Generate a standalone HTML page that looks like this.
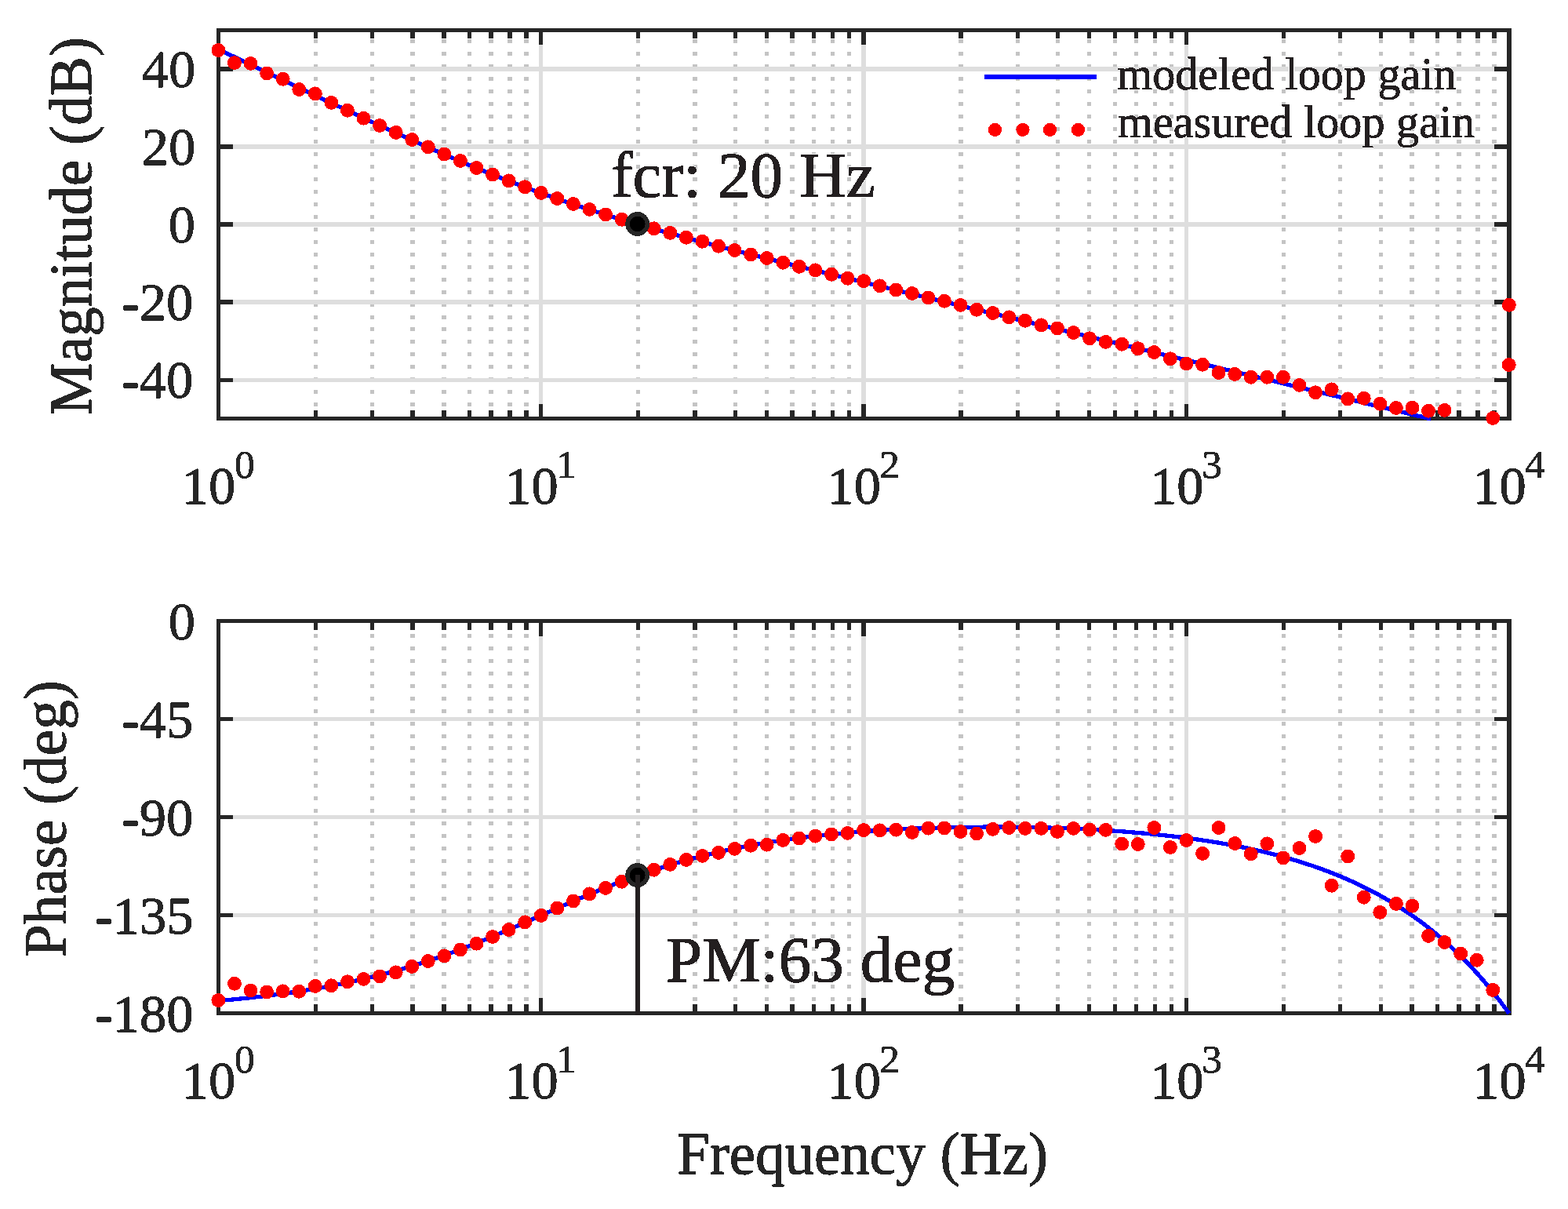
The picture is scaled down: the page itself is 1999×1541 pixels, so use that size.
<!DOCTYPE html>
<html lang="en">
<head>
<meta charset="utf-8">
<title>Loop gain Bode plot</title>
<style>
html,body{margin:0;padding:0;background:#fff;}
body{width:1999px;height:1541px;overflow:hidden;}
svg{display:block;}
text{font-family:"Liberation Serif","Times New Roman",Times,serif;}
</style>
</head>
<body>
<svg xmlns="http://www.w3.org/2000/svg" width="1999" height="1541" viewBox="0 0 1999 1541">
<rect width="1999" height="1541" fill="#fff"/>
<g id="top-axes" shape-rendering="crispEdges">
<path d="M402.23 50.35V533.50M474.67 50.35V533.50M526.07 50.35V533.50M565.94 50.35V533.50M598.51 50.35V533.50M626.05 50.35V533.50M649.90 50.35V533.50M670.95 50.35V533.50M813.60 50.35V533.50M886.04 50.35V533.50M937.44 50.35V533.50M977.31 50.35V533.50M1009.88 50.35V533.50M1037.42 50.35V533.50M1061.27 50.35V533.50M1082.32 50.35V533.50M1224.97 50.35V533.50M1297.41 50.35V533.50M1348.81 50.35V533.50M1388.68 50.35V533.50M1421.25 50.35V533.50M1448.79 50.35V533.50M1472.64 50.35V533.50M1493.69 50.35V533.50M1636.34 50.35V533.50M1708.78 50.35V533.50M1760.18 50.35V533.50M1800.05 50.35V533.50M1832.62 50.35V533.50M1860.16 50.35V533.50M1884.01 50.35V533.50M1905.06 50.35V533.50" fill="none" stroke="#c4c4c4" stroke-width="5.33" stroke-dasharray="5.0 10.963"/>
<path d="M689.77 38.5V533.5M1101.14 38.5V533.5M1512.51 38.5V533.5M278.4 88.00H1923.88M278.4 187.00H1923.88M278.4 286.00H1923.88M278.4 385.00H1923.88M278.4 484.45H1923.88" fill="none" stroke="#dedede" stroke-width="5.33"/>
<path d="M402.23 38.5v10.3M402.23 533.5v-10.3M474.67 38.5v10.3M474.67 533.5v-10.3M526.07 38.5v10.3M526.07 533.5v-10.3M565.94 38.5v10.3M565.94 533.5v-10.3M598.51 38.5v10.3M598.51 533.5v-10.3M626.05 38.5v10.3M626.05 533.5v-10.3M649.90 38.5v10.3M649.90 533.5v-10.3M670.95 38.5v10.3M670.95 533.5v-10.3M689.77 38.5v18.4M689.77 533.5v-18.4M813.60 38.5v10.3M813.60 533.5v-10.3M886.04 38.5v10.3M886.04 533.5v-10.3M937.44 38.5v10.3M937.44 533.5v-10.3M977.31 38.5v10.3M977.31 533.5v-10.3M1009.88 38.5v10.3M1009.88 533.5v-10.3M1037.42 38.5v10.3M1037.42 533.5v-10.3M1061.27 38.5v10.3M1061.27 533.5v-10.3M1082.32 38.5v10.3M1082.32 533.5v-10.3M1101.14 38.5v18.4M1101.14 533.5v-18.4M1224.97 38.5v10.3M1224.97 533.5v-10.3M1297.41 38.5v10.3M1297.41 533.5v-10.3M1348.81 38.5v10.3M1348.81 533.5v-10.3M1388.68 38.5v10.3M1388.68 533.5v-10.3M1421.25 38.5v10.3M1421.25 533.5v-10.3M1448.79 38.5v10.3M1448.79 533.5v-10.3M1472.64 38.5v10.3M1472.64 533.5v-10.3M1493.69 38.5v10.3M1493.69 533.5v-10.3M1512.51 38.5v18.4M1512.51 533.5v-18.4M1636.34 38.5v10.3M1636.34 533.5v-10.3M1708.78 38.5v10.3M1708.78 533.5v-10.3M1760.18 38.5v10.3M1760.18 533.5v-10.3M1800.05 38.5v10.3M1800.05 533.5v-10.3M1832.62 38.5v10.3M1832.62 533.5v-10.3M1860.16 38.5v10.3M1860.16 533.5v-10.3M1884.01 38.5v10.3M1884.01 533.5v-10.3M1905.06 38.5v10.3M1905.06 533.5v-10.3M278.4 88.00h18.4M1923.88 88.00h-18.9M278.4 187.00h18.4M1923.88 187.00h-18.9M278.4 286.00h18.4M1923.88 286.00h-18.9M278.4 385.00h18.4M1923.88 385.00h-18.9M278.4 484.45h18.4M1923.88 484.45h-18.9" fill="none" stroke="#262626" stroke-width="5.33"/>
<rect x="278.4" y="38.5" width="1645.48" height="495.0" fill="none" stroke="#262626" stroke-width="5.33"/>
</g>
<g id="bottom-axes" shape-rendering="crispEdges">
<path d="M402.23 807.80V1291.50M474.67 807.80V1291.50M526.07 807.80V1291.50M565.94 807.80V1291.50M598.51 807.80V1291.50M626.05 807.80V1291.50M649.90 807.80V1291.50M670.95 807.80V1291.50M813.60 807.80V1291.50M886.04 807.80V1291.50M937.44 807.80V1291.50M977.31 807.80V1291.50M1009.88 807.80V1291.50M1037.42 807.80V1291.50M1061.27 807.80V1291.50M1082.32 807.80V1291.50M1224.97 807.80V1291.50M1297.41 807.80V1291.50M1348.81 807.80V1291.50M1388.68 807.80V1291.50M1421.25 807.80V1291.50M1448.79 807.80V1291.50M1472.64 807.80V1291.50M1493.69 807.80V1291.50M1636.34 807.80V1291.50M1708.78 807.80V1291.50M1760.18 807.80V1291.50M1800.05 807.80V1291.50M1832.62 807.80V1291.50M1860.16 807.80V1291.50M1884.01 807.80V1291.50M1905.06 807.80V1291.50" fill="none" stroke="#c4c4c4" stroke-width="5.33" stroke-dasharray="5.0 10.963"/>
<path d="M689.77 791.5V1291.5M1101.14 791.5V1291.5M1512.51 791.5V1291.5M278.4 916.50H1923.88M278.4 1041.50H1923.88M278.4 1166.50H1923.88" fill="none" stroke="#dedede" stroke-width="5.33"/>
<path d="M402.23 791.5v11.4M402.23 1291.5v-11.4M474.67 791.5v11.4M474.67 1291.5v-11.4M526.07 791.5v11.4M526.07 1291.5v-11.4M565.94 791.5v11.4M565.94 1291.5v-11.4M598.51 791.5v11.4M598.51 1291.5v-11.4M626.05 791.5v11.4M626.05 1291.5v-11.4M649.90 791.5v11.4M649.90 1291.5v-11.4M670.95 791.5v11.4M670.95 1291.5v-11.4M689.77 791.5v19.4M689.77 1291.5v-19.4M813.60 791.5v11.4M813.60 1291.5v-11.4M886.04 791.5v11.4M886.04 1291.5v-11.4M937.44 791.5v11.4M937.44 1291.5v-11.4M977.31 791.5v11.4M977.31 1291.5v-11.4M1009.88 791.5v11.4M1009.88 1291.5v-11.4M1037.42 791.5v11.4M1037.42 1291.5v-11.4M1061.27 791.5v11.4M1061.27 1291.5v-11.4M1082.32 791.5v11.4M1082.32 1291.5v-11.4M1101.14 791.5v19.4M1101.14 1291.5v-19.4M1224.97 791.5v11.4M1224.97 1291.5v-11.4M1297.41 791.5v11.4M1297.41 1291.5v-11.4M1348.81 791.5v11.4M1348.81 1291.5v-11.4M1388.68 791.5v11.4M1388.68 1291.5v-11.4M1421.25 791.5v11.4M1421.25 1291.5v-11.4M1448.79 791.5v11.4M1448.79 1291.5v-11.4M1472.64 791.5v11.4M1472.64 1291.5v-11.4M1493.69 791.5v11.4M1493.69 1291.5v-11.4M1512.51 791.5v19.4M1512.51 1291.5v-19.4M1636.34 791.5v11.4M1636.34 1291.5v-11.4M1708.78 791.5v11.4M1708.78 1291.5v-11.4M1760.18 791.5v11.4M1760.18 1291.5v-11.4M1800.05 791.5v11.4M1800.05 1291.5v-11.4M1832.62 791.5v11.4M1832.62 1291.5v-11.4M1860.16 791.5v11.4M1860.16 1291.5v-11.4M1884.01 791.5v11.4M1884.01 1291.5v-11.4M1905.06 791.5v11.4M1905.06 1291.5v-11.4M278.4 916.50h18.4M1923.88 916.50h-18.9M278.4 1041.50h18.4M1923.88 1041.50h-18.9M278.4 1166.50h18.4M1923.88 1166.50h-18.9" fill="none" stroke="#262626" stroke-width="5.33"/>
<rect x="278.4" y="791.5" width="1645.48" height="500.0" fill="none" stroke="#262626" stroke-width="5.33"/>
</g>
<defs><filter id="crisp" x="-2%" y="-10%" width="104%" height="120%" color-interpolation-filters="sRGB"><feComponentTransfer in="SourceGraphic"><feFuncA type="discrete" tableValues="0 1"/></feComponentTransfer></filter><filter id="crisphalo" x="-2%" y="-10%" width="104%" height="120%" color-interpolation-filters="sRGB"><feComponentTransfer in="SourceAlpha" result="cov"><feFuncA type="linear" slope="400" intercept="-4"/></feComponentTransfer><feFlood flood-color="#ffffff" result="w"/><feComposite in="w" in2="cov" operator="in" result="halo"/><feComponentTransfer in="SourceGraphic" result="ink"><feFuncA type="discrete" tableValues="0 1"/></feComponentTransfer><feMerge><feMergeNode in="halo"/><feMergeNode in="ink"/></feMerge></filter></defs>
<defs><clipPath id="ct"><rect x="278.4" y="38.5" width="1545.6" height="497.665"/></clipPath><clipPath id="cb"><rect x="278.4" y="791.5" width="1648.145" height="502.665"/></clipPath></defs>
<g id="model" fill="none" stroke="#0000ff" stroke-width="5.33" stroke-linejoin="round" shape-rendering="crispEdges">
<path d="M278.4 62.8L281.8 64.4L285.3 66.1L288.7 67.7L292.1 69.4L295.5 71.0L299.0 72.6L302.4 74.3L305.8 75.9L309.3 77.6L312.7 79.2L316.1 80.8L319.5 82.5L323.0 84.1L326.4 85.7L329.8 87.4L333.2 89.0L336.7 90.6L340.1 92.3L343.5 93.9L347.0 95.5L350.4 97.2L353.8 98.8L357.2 100.4L360.7 102.1L364.1 103.7L367.5 105.3L371.0 107.0L374.4 108.6L377.8 110.2L381.2 111.8L384.7 113.5L388.1 115.1L391.5 116.7L395.0 118.3L398.4 119.9L401.8 121.6L405.2 123.2L408.7 124.8L412.1 126.4L415.5 128.0L419.0 129.6L422.4 131.3L425.8 132.9L429.2 134.5L432.7 136.1L436.1 137.7L439.5 139.3L442.9 140.9L446.4 142.5L449.8 144.1L453.2 145.7L456.7 147.3L460.1 148.9L463.5 150.5L466.9 152.0L470.4 153.6L473.8 155.2L477.2 156.8L480.7 158.4L484.1 160.0L487.5 161.5L490.9 163.1L494.4 164.7L497.8 166.2L501.2 167.8L504.7 169.4L508.1 170.9L511.5 172.5L514.9 174.0L518.4 175.6L521.8 177.1L525.2 178.6L528.7 180.2L532.1 181.7L535.5 183.2L538.9 184.8L542.4 186.3L545.8 187.8L549.2 189.3L552.6 190.8L556.1 192.3L559.5 193.8L562.9 195.3L566.4 196.8L569.8 198.3L573.2 199.7L576.6 201.2L580.1 202.7L583.5 204.1L586.9 205.6L590.4 207.0L593.8 208.5L597.2 209.9L600.6 211.4L604.1 212.8L607.5 214.2L610.9 215.6L614.4 217.0L617.8 218.4L621.2 219.8L624.6 221.2L628.1 222.6L631.5 223.9L634.9 225.3L638.3 226.7L641.8 228.0L645.2 229.4L648.6 230.7L652.1 232.0L655.5 233.3L658.9 234.6L662.3 235.9L665.8 237.2L669.2 238.5L672.6 239.8L676.1 241.1L679.5 242.4L682.9 243.6L686.3 244.9L689.8 246.1L693.2 247.3L696.6 248.6L700.1 249.8L703.5 251.0L706.9 252.2L710.3 253.4L713.8 254.6L717.2 255.7L720.6 256.9L724.1 258.1L727.5 259.2L730.9 260.4L734.3 261.5L737.8 262.7L741.2 263.8L744.6 264.9L748.0 266.0L751.5 267.1L754.9 268.2L758.3 269.3L761.8 270.4L765.2 271.5L768.6 272.5L772.0 273.6L775.5 274.7L778.9 275.7L782.3 276.7L785.8 277.8L789.2 278.8L792.6 279.8L796.0 280.9L799.5 281.9L802.9 282.9L806.3 283.9L809.8 284.9L813.2 285.9L816.6 286.9L820.0 287.9L823.5 288.8L826.9 289.8L830.3 290.8L833.7 291.7L837.2 292.7L840.6 293.7L844.0 294.6L847.5 295.6L850.9 296.5L854.3 297.4L857.7 298.4L861.2 299.3L864.6 300.2L868.0 301.2L871.5 302.1L874.9 303.0L878.3 303.9L881.7 304.8L885.2 305.7L888.6 306.6L892.0 307.6L895.5 308.5L898.9 309.4L902.3 310.2L905.7 311.1L909.2 312.0L912.6 312.9L916.0 313.8L919.5 314.7L922.9 315.6L926.3 316.5L929.7 317.3L933.2 318.2L936.6 319.1L940.0 320.0L943.4 320.8L946.9 321.7L950.3 322.6L953.7 323.4L957.2 324.3L960.6 325.2L964.0 326.0L967.4 326.9L970.9 327.7L974.3 328.6L977.7 329.5L981.2 330.3L984.6 331.2L988.0 332.0L991.4 332.9L994.9 333.7L998.3 334.6L1001.7 335.4L1005.2 336.3L1008.6 337.1L1012.0 338.0L1015.4 338.8L1018.9 339.7L1022.3 340.5L1025.7 341.4L1029.2 342.2L1032.6 343.0L1036.0 343.9L1039.4 344.7L1042.9 345.6L1046.3 346.4L1049.7 347.2L1053.1 348.1L1056.6 348.9L1060.0 349.8L1063.4 350.6L1066.9 351.4L1070.3 352.3L1073.7 353.1L1077.1 353.9L1080.6 354.8L1084.0 355.6L1087.4 356.5L1090.9 357.3L1094.3 358.1L1097.7 359.0L1101.1 359.8L1104.6 360.6L1108.0 361.5L1111.4 362.3L1114.9 363.1L1118.3 364.0L1121.7 364.8L1125.1 365.6L1128.6 366.4L1132.0 367.3L1135.4 368.1L1138.8 368.9L1142.3 369.8L1145.7 370.6L1149.1 371.4L1152.6 372.3L1156.0 373.1L1159.4 373.9L1162.8 374.7L1166.3 375.6L1169.7 376.4L1173.1 377.2L1176.6 378.1L1180.0 378.9L1183.4 379.7L1186.8 380.5L1190.3 381.4L1193.7 382.2L1197.1 383.0L1200.6 383.9L1204.0 384.7L1207.4 385.5L1210.8 386.3L1214.3 387.2L1217.7 388.0L1221.1 388.8L1224.6 389.6L1228.0 390.5L1231.4 391.3L1234.8 392.1L1238.3 393.0L1241.7 393.8L1245.1 394.6L1248.5 395.4L1252.0 396.3L1255.4 397.1L1258.8 397.9L1262.3 398.7L1265.7 399.6L1269.1 400.4L1272.5 401.2L1276.0 402.0L1279.4 402.9L1282.8 403.7L1286.3 404.5L1289.7 405.4L1293.1 406.2L1296.5 407.0L1300.0 407.8L1303.4 408.7L1306.8 409.5L1310.3 410.3L1313.7 411.1L1317.1 412.0L1320.5 412.8L1324.0 413.6L1327.4 414.4L1330.8 415.3L1334.2 416.1L1337.7 416.9L1341.1 417.7L1344.5 418.6L1348.0 419.4L1351.4 420.2L1354.8 421.0L1358.2 421.9L1361.7 422.7L1365.1 423.5L1368.5 424.3L1372.0 425.2L1375.4 426.0L1378.8 426.8L1382.2 427.6L1385.7 428.5L1389.1 429.3L1392.5 430.1L1396.0 430.9L1399.4 431.8L1402.8 432.6L1406.2 433.4L1409.7 434.2L1413.1 435.1L1416.5 435.9L1420.0 436.7L1423.4 437.5L1426.8 438.4L1430.2 439.2L1433.7 440.0L1437.1 440.8L1440.5 441.7L1443.9 442.5L1447.4 443.3L1450.8 444.1L1454.2 445.0L1457.7 445.8L1461.1 446.6L1464.5 447.4L1467.9 448.3L1471.4 449.1L1474.8 449.9L1478.2 450.7L1481.7 451.6L1485.1 452.4L1488.5 453.2L1491.9 454.0L1495.4 454.9L1498.8 455.7L1502.2 456.5L1505.7 457.4L1509.1 458.2L1512.5 459.0L1515.9 459.8L1519.4 460.7L1522.8 461.5L1526.2 462.3L1529.7 463.1L1533.1 464.0L1536.5 464.8L1539.9 465.6L1543.4 466.4L1546.8 467.3L1550.2 468.1L1553.6 468.9L1557.1 469.7L1560.5 470.6L1563.9 471.4L1567.4 472.2L1570.8 473.0L1574.2 473.9L1577.6 474.7L1581.1 475.5L1584.5 476.3L1587.9 477.2L1591.4 478.0L1594.8 478.8L1598.2 479.6L1601.6 480.5L1605.1 481.3L1608.5 482.1L1611.9 482.9L1615.4 483.8L1618.8 484.6L1622.2 485.4L1625.6 486.2L1629.1 487.1L1632.5 487.9L1635.9 488.7L1639.3 489.5L1642.8 490.4L1646.2 491.2L1649.6 492.0L1653.1 492.8L1656.5 493.7L1659.9 494.5L1663.3 495.3L1666.8 496.1L1670.2 497.0L1673.6 497.8L1677.1 498.6L1680.5 499.4L1683.9 500.3L1687.3 501.1L1690.8 501.9L1694.2 502.7L1697.6 503.6L1701.1 504.4L1704.5 505.2L1707.9 506.0L1711.3 506.9L1714.8 507.7L1718.2 508.5L1721.6 509.3L1725.1 510.2L1728.5 511.0L1731.9 511.8L1735.3 512.6L1738.8 513.5L1742.2 514.3L1745.6 515.1L1749.0 515.9L1752.5 516.8L1755.9 517.6L1759.3 518.4L1762.8 519.2L1766.2 520.1L1769.6 520.9L1773.0 521.7L1776.5 522.5L1779.9 523.4L1783.3 524.2L1786.8 525.0L1790.2 525.8L1793.6 526.7L1797.0 527.5L1800.5 528.3L1803.9 529.1L1807.3 530.0L1810.8 530.8L1814.2 531.6L1817.6 532.4L1821.0 533.3L1824.5 534.1L1827.9 534.9L1831.3 535.7L1834.7 536.6L1838.2 537.4L1841.6 538.2L1845.0 539.0L1848.5 539.9L1851.9 540.7L1855.3 541.5L1858.7 542.3L1862.2 543.2L1865.6 544.0L1869.0 544.8L1872.5 545.6L1875.9 546.5L1879.3 547.3L1882.7 548.1L1886.2 548.9L1889.6 549.8L1893.0 550.6L1896.5 551.4L1899.9 552.2L1903.3 553.1L1906.7 553.9L1910.2 554.7L1913.6 555.5L1917.0 556.4L1920.5 557.2L1923.9 558.0" clip-path="url(#ct)"/>
<path d="M278.4 1275.7L281.8 1275.4L285.3 1275.0L288.7 1274.7L292.1 1274.4L295.5 1274.1L299.0 1273.7L302.4 1273.4L305.8 1273.1L309.3 1272.7L312.7 1272.3L316.1 1272.0L319.5 1271.6L323.0 1271.2L326.4 1270.8L329.8 1270.4L333.2 1270.0L336.7 1269.6L340.1 1269.2L343.5 1268.8L347.0 1268.3L350.4 1267.9L353.8 1267.4L357.2 1267.0L360.7 1266.5L364.1 1266.0L367.5 1265.6L371.0 1265.1L374.4 1264.6L377.8 1264.1L381.2 1263.5L384.7 1263.0L388.1 1262.5L391.5 1261.9L395.0 1261.4L398.4 1260.8L401.8 1260.2L405.2 1259.6L408.7 1259.0L412.1 1258.4L415.5 1257.8L419.0 1257.1L422.4 1256.5L425.8 1255.8L429.2 1255.2L432.7 1254.5L436.1 1253.8L439.5 1253.1L442.9 1252.4L446.4 1251.7L449.8 1250.9L453.2 1250.2L456.7 1249.4L460.1 1248.6L463.5 1247.8L466.9 1247.0L470.4 1246.2L473.8 1245.4L477.2 1244.6L480.7 1243.7L484.1 1242.8L487.5 1242.0L490.9 1241.1L494.4 1240.1L497.8 1239.2L501.2 1238.3L504.7 1237.3L508.1 1236.4L511.5 1235.4L514.9 1234.4L518.4 1233.4L521.8 1232.3L525.2 1231.3L528.7 1230.2L532.1 1229.2L535.5 1228.1L538.9 1227.0L542.4 1225.9L545.8 1224.8L549.2 1223.6L552.6 1222.5L556.1 1221.3L559.5 1220.1L562.9 1218.9L566.4 1217.7L569.8 1216.5L573.2 1215.2L576.6 1214.0L580.1 1212.7L583.5 1211.4L586.9 1210.1L590.4 1208.8L593.8 1207.5L597.2 1206.1L600.6 1204.8L604.1 1203.4L607.5 1202.1L610.9 1200.7L614.4 1199.3L617.8 1197.9L621.2 1196.5L624.6 1195.1L628.1 1193.6L631.5 1192.2L634.9 1190.7L638.3 1189.3L641.8 1187.8L645.2 1186.3L648.6 1184.9L652.1 1183.4L655.5 1181.9L658.9 1180.4L662.3 1178.9L665.8 1177.4L669.2 1175.9L672.6 1174.4L676.1 1172.8L679.5 1171.3L682.9 1169.8L686.3 1168.3L689.8 1166.8L693.2 1165.2L696.6 1163.7L700.1 1162.2L703.5 1160.7L706.9 1159.2L710.3 1157.6L713.8 1156.1L717.2 1154.6L720.6 1153.1L724.1 1151.6L727.5 1150.1L730.9 1148.7L734.3 1147.2L737.8 1145.7L741.2 1144.2L744.6 1142.8L748.0 1141.3L751.5 1139.9L754.9 1138.5L758.3 1137.1L761.8 1135.6L765.2 1134.2L768.6 1132.9L772.0 1131.5L775.5 1130.1L778.9 1128.8L782.3 1127.4L785.8 1126.1L789.2 1124.8L792.6 1123.5L796.0 1122.2L799.5 1120.9L802.9 1119.6L806.3 1118.4L809.8 1117.2L813.2 1115.9L816.6 1114.7L820.0 1113.5L823.5 1112.4L826.9 1111.2L830.3 1110.1L833.7 1108.9L837.2 1107.8L840.6 1106.7L844.0 1105.6L847.5 1104.5L850.9 1103.5L854.3 1102.4L857.7 1101.4L861.2 1100.4L864.6 1099.4L868.0 1098.4L871.5 1097.4L874.9 1096.5L878.3 1095.5L881.7 1094.6L885.2 1093.7L888.6 1092.8L892.0 1091.9L895.5 1091.0L898.9 1090.2L902.3 1089.3L905.7 1088.5L909.2 1087.7L912.6 1086.9L916.0 1086.1L919.5 1085.3L922.9 1084.6L926.3 1083.8L929.7 1083.1L933.2 1082.4L936.6 1081.7L940.0 1081.0L943.4 1080.3L946.9 1079.6L950.3 1079.0L953.7 1078.3L957.2 1077.7L960.6 1077.0L964.0 1076.4L967.4 1075.8L970.9 1075.2L974.3 1074.7L977.7 1074.1L981.2 1073.5L984.6 1073.0L988.0 1072.5L991.4 1071.9L994.9 1071.4L998.3 1070.9L1001.7 1070.4L1005.2 1069.9L1008.6 1069.5L1012.0 1069.0L1015.4 1068.5L1018.9 1068.1L1022.3 1067.7L1025.7 1067.2L1029.2 1066.8L1032.6 1066.4L1036.0 1066.0L1039.4 1065.6L1042.9 1065.2L1046.3 1064.8L1049.7 1064.5L1053.1 1064.1L1056.6 1063.8L1060.0 1063.4L1063.4 1063.1L1066.9 1062.8L1070.3 1062.4L1073.7 1062.1L1077.1 1061.8L1080.6 1061.5L1084.0 1061.2L1087.4 1060.9L1090.9 1060.7L1094.3 1060.4L1097.7 1060.1L1101.1 1059.9L1104.6 1059.6L1108.0 1059.4L1111.4 1059.1L1114.9 1058.9L1118.3 1058.7L1121.7 1058.5L1125.1 1058.2L1128.6 1058.0L1132.0 1057.8L1135.4 1057.6L1138.8 1057.4L1142.3 1057.3L1145.7 1057.1L1149.1 1056.9L1152.6 1056.7L1156.0 1056.6L1159.4 1056.4L1162.8 1056.3L1166.3 1056.1L1169.7 1056.0L1173.1 1055.9L1176.6 1055.7L1180.0 1055.6L1183.4 1055.5L1186.8 1055.4L1190.3 1055.3L1193.7 1055.2L1197.1 1055.1L1200.6 1055.0L1204.0 1054.9L1207.4 1054.8L1210.8 1054.7L1214.3 1054.7L1217.7 1054.6L1221.1 1054.5L1224.6 1054.5L1228.0 1054.4L1231.4 1054.4L1234.8 1054.3L1238.3 1054.3L1241.7 1054.2L1245.1 1054.2L1248.5 1054.2L1252.0 1054.2L1255.4 1054.1L1258.8 1054.1L1262.3 1054.1L1265.7 1054.1L1269.1 1054.1L1272.5 1054.1L1276.0 1054.1L1279.4 1054.1L1282.8 1054.2L1286.3 1054.2L1289.7 1054.2L1293.1 1054.3L1296.5 1054.3L1300.0 1054.3L1303.4 1054.4L1306.8 1054.4L1310.3 1054.5L1313.7 1054.6L1317.1 1054.6L1320.5 1054.7L1324.0 1054.8L1327.4 1054.9L1330.8 1054.9L1334.2 1055.0L1337.7 1055.1L1341.1 1055.2L1344.5 1055.3L1348.0 1055.4L1351.4 1055.6L1354.8 1055.7L1358.2 1055.8L1361.7 1055.9L1365.1 1056.1L1368.5 1056.2L1372.0 1056.4L1375.4 1056.5L1378.8 1056.7L1382.2 1056.9L1385.7 1057.0L1389.1 1057.2L1392.5 1057.4L1396.0 1057.6L1399.4 1057.8L1402.8 1058.0L1406.2 1058.2L1409.7 1058.4L1413.1 1058.6L1416.5 1058.8L1420.0 1059.1L1423.4 1059.3L1426.8 1059.5L1430.2 1059.8L1433.7 1060.1L1437.1 1060.3L1440.5 1060.6L1443.9 1060.9L1447.4 1061.2L1450.8 1061.4L1454.2 1061.7L1457.7 1062.1L1461.1 1062.4L1464.5 1062.7L1467.9 1063.0L1471.4 1063.4L1474.8 1063.7L1478.2 1064.1L1481.7 1064.4L1485.1 1064.8L1488.5 1065.2L1491.9 1065.6L1495.4 1066.0L1498.8 1066.4L1502.2 1066.8L1505.7 1067.2L1509.1 1067.6L1512.5 1068.1L1515.9 1068.5L1519.4 1069.0L1522.8 1069.5L1526.2 1070.0L1529.7 1070.5L1533.1 1071.0L1536.5 1071.5L1539.9 1072.0L1543.4 1072.6L1546.8 1073.1L1550.2 1073.7L1553.6 1074.2L1557.1 1074.8L1560.5 1075.4L1563.9 1076.0L1567.4 1076.7L1570.8 1077.3L1574.2 1077.9L1577.6 1078.6L1581.1 1079.3L1584.5 1080.0L1587.9 1080.7L1591.4 1081.4L1594.8 1082.1L1598.2 1082.9L1601.6 1083.6L1605.1 1084.4L1608.5 1085.2L1611.9 1086.0L1615.4 1086.9L1618.8 1087.7L1622.2 1088.6L1625.6 1089.4L1629.1 1090.3L1632.5 1091.2L1635.9 1092.2L1639.3 1093.1L1642.8 1094.1L1646.2 1095.1L1649.6 1096.1L1653.1 1097.1L1656.5 1098.2L1659.9 1099.2L1663.3 1100.3L1666.8 1101.5L1670.2 1102.6L1673.6 1103.7L1677.1 1104.9L1680.5 1106.1L1683.9 1107.4L1687.3 1108.6L1690.8 1109.9L1694.2 1111.2L1697.6 1112.5L1701.1 1113.9L1704.5 1115.3L1707.9 1116.7L1711.3 1118.1L1714.8 1119.6L1718.2 1121.1L1721.6 1122.6L1725.1 1124.1L1728.5 1125.7L1731.9 1127.3L1735.3 1129.0L1738.8 1130.7L1742.2 1132.4L1745.6 1134.1L1749.0 1135.9L1752.5 1137.7L1755.9 1139.5L1759.3 1141.4L1762.8 1143.3L1766.2 1145.3L1769.6 1147.3L1773.0 1149.3L1776.5 1151.4L1779.9 1153.5L1783.3 1155.7L1786.8 1157.9L1790.2 1160.1L1793.6 1162.4L1797.0 1164.7L1800.5 1167.1L1803.9 1169.5L1807.3 1172.0L1810.8 1174.5L1814.2 1177.1L1817.6 1179.7L1821.0 1182.4L1824.5 1185.1L1827.9 1187.9L1831.3 1190.7L1834.7 1193.6L1838.2 1196.5L1841.6 1199.5L1845.0 1202.5L1848.5 1205.7L1851.9 1208.8L1855.3 1212.1L1858.7 1215.4L1862.2 1218.7L1865.6 1222.1L1869.0 1225.6L1872.5 1229.2L1875.9 1232.8L1879.3 1236.5L1882.7 1240.3L1886.2 1244.1L1889.6 1248.0L1893.0 1252.0L1896.5 1256.1L1899.9 1260.3L1903.3 1264.5L1906.7 1268.8L1910.2 1273.2L1913.6 1277.7L1917.0 1282.3L1920.5 1286.9L1923.9 1291.7" clip-path="url(#cb)"/>
</g>
<g id="measured-mag" fill="#ff0000" shape-rendering="crispEdges"><circle cx="278.40" cy="64.00" r="8.95"/><circle cx="298.97" cy="80.00" r="8.95"/><circle cx="319.54" cy="80.90" r="8.95"/><circle cx="340.11" cy="93.40" r="8.95"/><circle cx="360.67" cy="100.75" r="8.95"/><circle cx="381.24" cy="114.00" r="8.95"/><circle cx="401.81" cy="119.40" r="8.95"/><circle cx="422.38" cy="130.90" r="8.95"/><circle cx="442.95" cy="140.75" r="8.95"/><circle cx="463.52" cy="150.75" r="8.95"/><circle cx="484.08" cy="160.00" r="8.95"/><circle cx="504.65" cy="168.90" r="8.95"/><circle cx="525.22" cy="178.00" r="8.95"/><circle cx="545.79" cy="187.40" r="8.95"/><circle cx="566.36" cy="196.50" r="8.95"/><circle cx="586.93" cy="205.00" r="8.95"/><circle cx="607.50" cy="214.00" r="8.95"/><circle cx="628.06" cy="222.50" r="8.95"/><circle cx="648.63" cy="230.40" r="8.95"/><circle cx="669.20" cy="238.25" r="8.95"/><circle cx="689.77" cy="245.90" r="8.95"/><circle cx="710.34" cy="253.00" r="8.95"/><circle cx="730.91" cy="260.00" r="8.95"/><circle cx="751.48" cy="266.90" r="8.95"/><circle cx="772.04" cy="273.40" r="8.95"/><circle cx="792.61" cy="279.75" r="8.95"/><circle cx="813.18" cy="285.90" r="8.95"/><circle cx="833.75" cy="291.25" r="8.95"/><circle cx="854.32" cy="296.90" r="8.95"/><circle cx="874.89" cy="302.75" r="8.95"/><circle cx="895.46" cy="307.75" r="8.95"/><circle cx="916.02" cy="313.75" r="8.95"/><circle cx="936.59" cy="319.00" r="8.95"/><circle cx="957.16" cy="324.40" r="8.95"/><circle cx="977.73" cy="329.00" r="8.95"/><circle cx="998.30" cy="334.75" r="8.95"/><circle cx="1018.87" cy="339.75" r="8.95"/><circle cx="1039.43" cy="344.40" r="8.95"/><circle cx="1060.00" cy="349.75" r="8.95"/><circle cx="1080.57" cy="354.75" r="8.95"/><circle cx="1101.14" cy="358.10" r="8.95"/><circle cx="1121.71" cy="364.40" r="8.95"/><circle cx="1142.28" cy="369.50" r="8.95"/><circle cx="1162.85" cy="374.00" r="8.95"/><circle cx="1183.41" cy="379.50" r="8.95"/><circle cx="1203.98" cy="383.75" r="8.95"/><circle cx="1224.55" cy="388.90" r="8.95"/><circle cx="1245.12" cy="394.75" r="8.95"/><circle cx="1265.69" cy="399.00" r="8.95"/><circle cx="1286.26" cy="404.40" r="8.95"/><circle cx="1306.82" cy="408.75" r="8.95"/><circle cx="1327.39" cy="414.40" r="8.95"/><circle cx="1347.96" cy="418.40" r="8.95"/><circle cx="1368.53" cy="424.00" r="8.95"/><circle cx="1389.10" cy="431.25" r="8.95"/><circle cx="1409.67" cy="435.90" r="8.95"/><circle cx="1430.24" cy="438.75" r="8.95"/><circle cx="1450.80" cy="444.20" r="8.95"/><circle cx="1471.37" cy="449.00" r="8.95"/><circle cx="1491.94" cy="457.25" r="8.95"/><circle cx="1512.51" cy="463.50" r="8.95"/><circle cx="1533.08" cy="464.75" r="8.95"/><circle cx="1553.65" cy="475.00" r="8.95"/><circle cx="1574.22" cy="476.90" r="8.95"/><circle cx="1594.78" cy="480.75" r="8.95"/><circle cx="1615.35" cy="480.75" r="8.95"/><circle cx="1635.92" cy="480.75" r="8.95"/><circle cx="1656.49" cy="490.90" r="8.95"/><circle cx="1677.06" cy="500.25" r="8.95"/><circle cx="1697.63" cy="496.40" r="8.95"/><circle cx="1718.20" cy="508.40" r="8.95"/><circle cx="1738.76" cy="507.75" r="8.95"/><circle cx="1759.33" cy="514.75" r="8.95"/><circle cx="1779.90" cy="520.00" r="8.95"/><circle cx="1800.47" cy="519.75" r="8.95"/><circle cx="1821.04" cy="523.75" r="8.95"/><circle cx="1841.61" cy="522.90" r="8.95"/><circle cx="1903.31" cy="532.90" r="8.95"/><circle cx="1923.88" cy="388.75" r="8.95"/><circle cx="1923.75" cy="465.00" r="8.95"/></g>
<g id="measured-phase" fill="#ff0000" shape-rendering="crispEdges"><circle cx="278.40" cy="1275.00" r="8.95"/><circle cx="298.97" cy="1253.75" r="8.95"/><circle cx="319.54" cy="1262.50" r="8.95"/><circle cx="340.11" cy="1264.40" r="8.95"/><circle cx="360.67" cy="1263.40" r="8.95"/><circle cx="381.24" cy="1263.75" r="8.95"/><circle cx="401.81" cy="1256.90" r="8.95"/><circle cx="422.38" cy="1256.25" r="8.95"/><circle cx="442.95" cy="1251.25" r="8.95"/><circle cx="463.52" cy="1247.90" r="8.95"/><circle cx="484.08" cy="1244.40" r="8.95"/><circle cx="504.65" cy="1239.40" r="8.95"/><circle cx="525.22" cy="1231.90" r="8.95"/><circle cx="545.79" cy="1225.00" r="8.95"/><circle cx="566.36" cy="1218.40" r="8.95"/><circle cx="586.93" cy="1210.40" r="8.95"/><circle cx="607.50" cy="1202.75" r="8.95"/><circle cx="628.06" cy="1194.00" r="8.95"/><circle cx="648.63" cy="1185.00" r="8.95"/><circle cx="669.20" cy="1175.40" r="8.95"/><circle cx="689.77" cy="1166.90" r="8.95"/><circle cx="710.34" cy="1157.50" r="8.95"/><circle cx="730.91" cy="1148.40" r="8.95"/><circle cx="751.48" cy="1139.40" r="8.95"/><circle cx="772.04" cy="1131.90" r="8.95"/><circle cx="792.61" cy="1123.75" r="8.95"/><circle cx="813.18" cy="1115.50" r="8.95"/><circle cx="833.75" cy="1108.75" r="8.95"/><circle cx="854.32" cy="1101.90" r="8.95"/><circle cx="874.89" cy="1095.90" r="8.95"/><circle cx="895.46" cy="1090.90" r="8.95"/><circle cx="916.02" cy="1086.90" r="8.95"/><circle cx="936.59" cy="1081.90" r="8.95"/><circle cx="957.16" cy="1077.75" r="8.95"/><circle cx="977.73" cy="1076.60" r="8.95"/><circle cx="998.30" cy="1070.90" r="8.95"/><circle cx="1018.87" cy="1068.50" r="8.95"/><circle cx="1039.43" cy="1065.60" r="8.95"/><circle cx="1060.00" cy="1063.40" r="8.95"/><circle cx="1080.57" cy="1061.90" r="8.95"/><circle cx="1101.14" cy="1058.10" r="8.95"/><circle cx="1121.71" cy="1058.40" r="8.95"/><circle cx="1142.28" cy="1057.60" r="8.95"/><circle cx="1162.85" cy="1061.00" r="8.95"/><circle cx="1183.41" cy="1055.60" r="8.95"/><circle cx="1203.98" cy="1055.40" r="8.95"/><circle cx="1224.55" cy="1060.00" r="8.95"/><circle cx="1245.12" cy="1062.50" r="8.95"/><circle cx="1265.69" cy="1056.90" r="8.95"/><circle cx="1286.26" cy="1055.00" r="8.95"/><circle cx="1306.82" cy="1055.90" r="8.95"/><circle cx="1327.39" cy="1055.90" r="8.95"/><circle cx="1347.96" cy="1060.00" r="8.95"/><circle cx="1368.53" cy="1055.90" r="8.95"/><circle cx="1389.10" cy="1057.50" r="8.95"/><circle cx="1409.67" cy="1057.90" r="8.95"/><circle cx="1430.24" cy="1075.60" r="8.95"/><circle cx="1450.80" cy="1076.00" r="8.95"/><circle cx="1471.37" cy="1055.00" r="8.95"/><circle cx="1491.94" cy="1080.00" r="8.95"/><circle cx="1512.51" cy="1071.00" r="8.95"/><circle cx="1533.08" cy="1087.90" r="8.95"/><circle cx="1553.65" cy="1055.00" r="8.95"/><circle cx="1574.22" cy="1075.00" r="8.95"/><circle cx="1594.78" cy="1088.40" r="8.95"/><circle cx="1615.35" cy="1075.40" r="8.95"/><circle cx="1635.92" cy="1093.40" r="8.95"/><circle cx="1656.49" cy="1081.00" r="8.95"/><circle cx="1677.06" cy="1066.00" r="8.95"/><circle cx="1697.63" cy="1128.75" r="8.95"/><circle cx="1718.20" cy="1091.50" r="8.95"/><circle cx="1738.76" cy="1143.75" r="8.95"/><circle cx="1759.33" cy="1162.90" r="8.95"/><circle cx="1779.90" cy="1151.90" r="8.95"/><circle cx="1800.47" cy="1154.70" r="8.95"/><circle cx="1821.04" cy="1192.90" r="8.95"/><circle cx="1841.61" cy="1201.00" r="8.95"/><circle cx="1862.17" cy="1215.60" r="8.95"/><circle cx="1882.74" cy="1223.75" r="8.95"/><circle cx="1903.31" cy="1261.90" r="8.95"/></g>
<g id="markers" shape-rendering="crispEdges"><circle cx="812.7" cy="285.4" r="12.65" fill="#000" stroke="#262626" stroke-width="5.6"/><circle cx="812.7" cy="1115.6" r="12.65" fill="#000" stroke="#262626" stroke-width="5.6"/><path d="M813.1 1114.75V1293.9" stroke="#231f20" stroke-width="5.75" fill="none"/></g>
<g id="tick-labels" filter="url(#crisp)"><text x="180.80" y="111.10" font-size="68.5" fill="#262626" stroke="#262626" stroke-width="0.96" stroke-linejoin="round">40</text>
<text x="180.80" y="210.10" font-size="68.5" fill="#262626" stroke="#262626" stroke-width="0.96" stroke-linejoin="round">20</text>
<text x="214.70" y="309.00" font-size="68.5" fill="#262626" stroke="#262626" stroke-width="0.96" stroke-linejoin="round">0</text>
<text x="154.90" y="408.00" font-size="68.5" fill="#262626" stroke="#262626" stroke-width="0.96" stroke-linejoin="round">-20</text>
<text x="154.90" y="507.10" font-size="68.5" fill="#262626" stroke="#262626" stroke-width="0.96" stroke-linejoin="round">-40</text>
<text x="214.70" y="814.90" font-size="68.5" fill="#262626" stroke="#262626" stroke-width="0.96" stroke-linejoin="round">0</text>
<text x="154.90" y="939.90" font-size="68.5" fill="#262626" stroke="#262626" stroke-width="0.96" stroke-linejoin="round">-45</text>
<text x="154.90" y="1064.90" font-size="68.5" fill="#262626" stroke="#262626" stroke-width="0.96" stroke-linejoin="round">-90</text>
<text x="120.90" y="1189.80" font-size="68.5" fill="#262626" stroke="#262626" stroke-width="0.96" stroke-linejoin="round">-135</text>
<text x="120.90" y="1314.80" font-size="68.5" fill="#262626" stroke="#262626" stroke-width="0.96" stroke-linejoin="round">-180</text>
<text x="231.80" y="641.90" font-size="68.5" fill="#262626" stroke="#262626" stroke-width="0.96" stroke-linejoin="round">10</text>
<text x="298.90" y="608.80" font-size="51.5" fill="#262626" stroke="#262626" stroke-width="0.72" stroke-linejoin="round">0</text>
<text x="643.17" y="641.90" font-size="68.5" fill="#262626" stroke="#262626" stroke-width="0.96" stroke-linejoin="round">10</text>
<text x="709.17" y="608.80" font-size="51.5" fill="#262626" stroke="#262626" stroke-width="0.72" stroke-linejoin="round">1</text>
<text x="1054.54" y="641.90" font-size="68.5" fill="#262626" stroke="#262626" stroke-width="0.96" stroke-linejoin="round">10</text>
<text x="1121.14" y="608.80" font-size="51.5" fill="#262626" stroke="#262626" stroke-width="0.72" stroke-linejoin="round">2</text>
<text x="1465.91" y="641.90" font-size="68.5" fill="#262626" stroke="#262626" stroke-width="0.96" stroke-linejoin="round">10</text>
<text x="1532.31" y="608.80" font-size="51.5" fill="#262626" stroke="#262626" stroke-width="0.72" stroke-linejoin="round">3</text>
<text x="1877.28" y="641.90" font-size="68.5" fill="#262626" stroke="#262626" stroke-width="0.96" stroke-linejoin="round">10</text>
<text x="1943.88" y="608.80" font-size="51.5" fill="#262626" stroke="#262626" stroke-width="0.72" stroke-linejoin="round">4</text>
<text x="231.80" y="1399.90" font-size="68.5" fill="#262626" stroke="#262626" stroke-width="0.96" stroke-linejoin="round">10</text>
<text x="298.90" y="1366.80" font-size="51.5" fill="#262626" stroke="#262626" stroke-width="0.72" stroke-linejoin="round">0</text>
<text x="643.17" y="1399.90" font-size="68.5" fill="#262626" stroke="#262626" stroke-width="0.96" stroke-linejoin="round">10</text>
<text x="709.17" y="1366.80" font-size="51.5" fill="#262626" stroke="#262626" stroke-width="0.72" stroke-linejoin="round">1</text>
<text x="1054.54" y="1399.90" font-size="68.5" fill="#262626" stroke="#262626" stroke-width="0.96" stroke-linejoin="round">10</text>
<text x="1121.14" y="1366.80" font-size="51.5" fill="#262626" stroke="#262626" stroke-width="0.72" stroke-linejoin="round">2</text>
<text x="1465.91" y="1399.90" font-size="68.5" fill="#262626" stroke="#262626" stroke-width="0.96" stroke-linejoin="round">10</text>
<text x="1532.31" y="1366.80" font-size="51.5" fill="#262626" stroke="#262626" stroke-width="0.72" stroke-linejoin="round">3</text>
<text x="1877.28" y="1399.90" font-size="68.5" fill="#262626" stroke="#262626" stroke-width="0.96" stroke-linejoin="round">10</text>
<text x="1943.88" y="1366.80" font-size="51.5" fill="#262626" stroke="#262626" stroke-width="0.72" stroke-linejoin="round">4</text></g>
<g id="axis-labels" filter="url(#crisp)"><text transform="translate(115.80 529.10) rotate(-90)" font-size="75.14" fill="#262626" stroke="#262626" stroke-width="1.05" stroke-linejoin="round">Magnitude (dB)</text>
<text transform="translate(83.30 1220.10) rotate(-90)" font-size="75.19" fill="#262626" stroke="#262626" stroke-width="1.05" stroke-linejoin="round">Phase (deg)</text>
<text x="862.90" y="1495.90" font-size="75.07" fill="#262626" stroke="#262626" stroke-width="1.05" stroke-linejoin="round">Frequency (Hz)</text></g>
<g id="annotations" filter="url(#crisphalo)"><text x="778.90" y="250.80" font-size="83.07" fill="#231f20" stroke="#231f20" stroke-width="1.16" stroke-linejoin="round">fcr: 20 Hz</text>
<text x="848.75" y="1251.25" font-size="83.45" fill="#231f20" stroke="#231f20" stroke-width="1.17" stroke-linejoin="round">PM:63 deg</text></g>
<g id="legend"><path d="M1254.9 98.05H1398.1" stroke="#0000ff" stroke-width="5.8" fill="none" shape-rendering="crispEdges"/>
<g fill="#ff0000" shape-rendering="crispEdges"><circle cx="1268.5" cy="165.4" r="8.6"/><circle cx="1303.95" cy="165.4" r="8.6"/><circle cx="1338.5" cy="165.4" r="8.6"/><circle cx="1374.5" cy="165.4" r="8.6"/></g><g filter="url(#crisphalo)"><text x="1424.00" y="114.20" font-size="58.12" fill="#231f20" stroke="#231f20" stroke-width="0.81" stroke-linejoin="round">modeled loop gain</text>
<text x="1424.75" y="175.20" font-size="58.16" fill="#231f20" stroke="#231f20" stroke-width="0.81" stroke-linejoin="round">measured loop gain</text></g></g>
</svg>
</body>
</html>
